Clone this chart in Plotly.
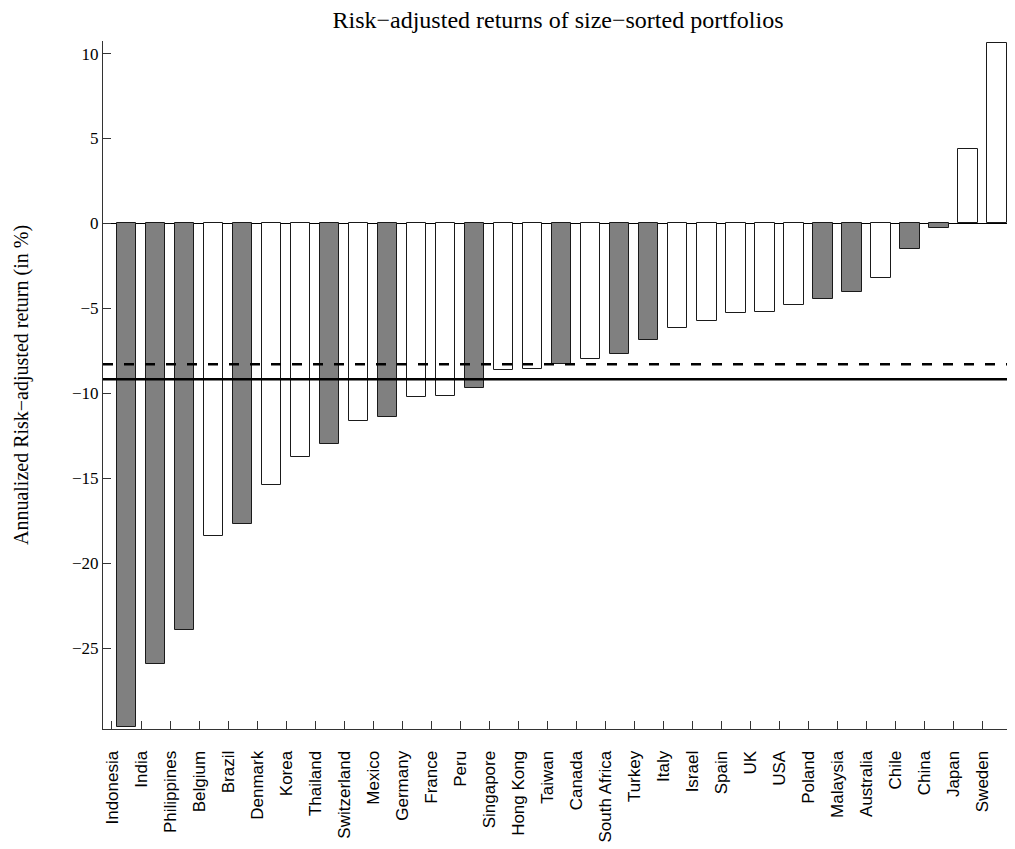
import plotly.graph_objects as go

countries = ["Indonesia", "India", "Philippines", "Belgium", "Brazil", "Denmark", "Korea",
             "Thailand", "Switzerland", "Mexico", "Germany", "France", "Peru", "Singapore",
             "Hong Kong", "Taiwan", "Canada", "South Africa", "Turkey", "Italy", "Israel",
             "Spain", "UK", "USA", "Poland", "Malaysia", "Australia", "Chile", "China",
             "Japan", "Sweden"]
returns = [-29.66, -25.90, -23.95, -18.38, -17.66, -15.38, -13.72,
           -12.97, -11.60, -11.38, -10.20, -10.13, -9.66, -8.60,
           -8.56, -8.28, -7.99, -7.70, -6.83, -6.15, -5.75,
           -5.28, -5.19, -4.79, -4.42, -4.05, -3.19, -1.52, -0.25,
           4.38, 10.64]
# 1 = emerging market (grey bar), 0 = developed market (white bar)
emerging = [1, 1, 1, 0, 1, 0, 0,
            1, 0, 1, 0, 0, 1, 0,
            0, 1, 0, 1, 1, 0, 0,
            0, 0, 0, 1, 1, 0, 1, 1,
            0, 0]
mean_dashed = -8.28
mean_solid = -9.17
ytick_values = [-25, -20, -15, -10, -5, 0, 5, 10]

positions = list(range(len(countries)))
colors = ["#808080" if e else "#ffffff" for e in emerging]

fig = go.Figure()
fig.add_trace(go.Bar(
    x=positions, y=returns, width=0.67,
    marker=dict(color=colors, line=dict(color="#1a1a1a", width=1)),
    showlegend=False, hoverinfo="skip"))

fig.add_hline(y=mean_dashed, line=dict(color="black", width=2.5, dash="10px,11px"), layer="above")
fig.add_hline(y=mean_solid, line=dict(color="black", width=2.5), layer="above")

serif = "Liberation Serif, Times New Roman, serif"
sans = "Liberation Sans, Arial, sans-serif"

W, H = 1007, 841
fig.update_layout(
    width=W, height=H,
    margin=dict(l=95, r=3, t=33, b=120),
    paper_bgcolor="white", plot_bgcolor="white",
    bargap=0,
    title=dict(text="Risk\u2212adjusted returns of size\u2212sorted portfolios",
               font=dict(family=serif, size=24, color="black"),
               x=550 / W, xref="container", xanchor="center",
               y=1 - 12 / H, yref="container", yanchor="middle"),
    xaxis=dict(range=[-0.81, 30.52],
               automargin=False,
               tickmode="array",
               tickvals=[p - 0.5 for p in positions],
               ticktext=countries,
               tickangle=-90,
               ticks="inside", ticklen=8, tickcolor="#333", tickwidth=1,
               showline=True, linecolor="#333", linewidth=1,
               showgrid=False, zeroline=False,
               tickfont=dict(family=sans, size=17, color="black"),
               ticklabelstandoff=14),
    yaxis=dict(range=[-29.75, 10.74],
               automargin=False,
               tickmode="array",
               tickvals=ytick_values,
               ticktext=[str(v).replace("-", "\u2212") for v in ytick_values],
               ticks="inside", ticklen=8, tickcolor="#333", tickwidth=1,
               showline=True, linecolor="#333", linewidth=1,
               showgrid=False,
               zeroline=True, zerolinecolor="black", zerolinewidth=1,
               tickfont=dict(family=serif, size=17, color="black"),
               title=dict(text="Annualized Risk\u2212adjusted return (in %)",
                          font=dict(family=serif, size=20, color="black"),
                          standoff=38)),
)

fig.write_html("out.html")
